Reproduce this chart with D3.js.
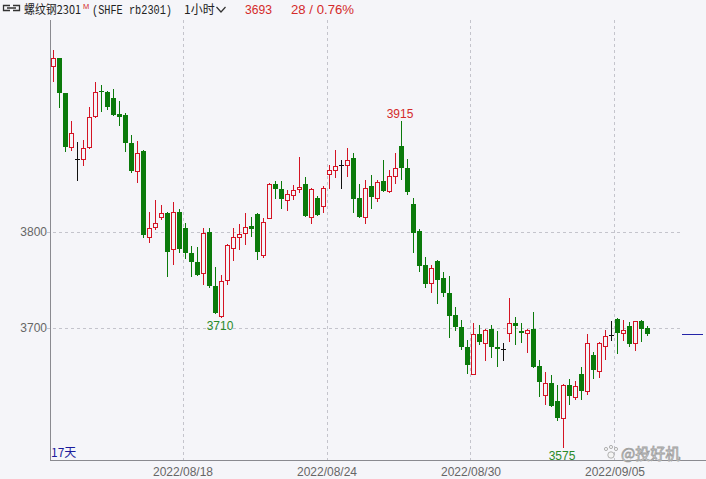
<!DOCTYPE html>
<html><head><meta charset="utf-8">
<script src="https://cdn.jsdelivr.net/npm/d3@7"></script>
<style>body{margin:0;background:#f5f5f9}svg{display:block}</style>
</head><body>
<svg id="c" width="706" height="479"></svg>
<script>
const open = [3973,3981,3944,3888,3876,3876,3888,3920,3947,3946, 3939,3923,3922,3892,3863,3884,3795,3805,3815,3820,
  3782,3821,3804,3778,3768,3757,3800,3743,3712,3750, 3783,3795,3799,3806,3818,3776,3814,3850,3845,3833,
  3838,3844,3850,3815,3835,3827,3860,3864,3869,3869, 3877,3835,3815,3848,3835,3853,3842,3858,3889,3866,
  3829,3801,3765,3747,3770,3752,3736,3713,3701,3680, 3652,3693,3684,3699,3680,3678,3695,3705,3697,3695,
  3699,3660,3630,3642,3624,3606,3640,3628,3652,3634, 3672,3655,3681,3692,3709,3694,3702,3684,3707,3700];
const high = [3989,3981,3944,3915,3893,3896,3930,3956,3953,3947, 3949,3936,3924,3901,3894,3885,3821,3833,3828,3821,
  3831,3824,3809,3785,3784,3804,3804,3763,3755,3787, 3804,3808,3819,3815,3819,3814,3851,3853,3853,3843,
  3849,3878,3857,3846,3837,3848,3870,3885,3875,3887, 3882,3850,3854,3859,3854,3875,3864,3882,3915,3876,
  3835,3803,3774,3765,3771,3758,3754,3722,3708,3687, 3705,3703,3699,3703,3697,3684,3731,3711,3705,3699,
  3716,3666,3654,3651,3640,3641,3647,3645,3659,3693, 3675,3685,3698,3707,3710,3708,3706,3707,3708,3702];
const low = [3956,3929,3883,3884,3853,3868,3886,3918,3925,3927, 3921,3910,3883,3861,3851,3793,3788,3802,3812,3753,
  3765,3778,3772,3753,3754,3744,3741,3714,3710,3744, 3770,3781,3786,3795,3771,3773,3813,3834,3824,3822,
  3833,3840,3815,3808,3816,3819,3845,3856,3844,3857, 3819,3814,3808,3824,3831,3841,3840,3850,3854,3838,
  3778,3758,3741,3736,3725,3732,3689,3697,3677,3652, 3651,3682,3665,3668,3659,3665,3685,3682,3684,3674,
  3658,3628,3620,3617,3603,3575,3620,3625,3625,3630, 3647,3648,3666,3686,3673,3686,3680,3676,3685,3691];
const close = [3981,3944,3888,3903,3876,3887,3919,3945,3945,3930, 3922,3919,3892,3863,3882,3797,3804,3809,3819,3779,
  3821,3782,3778,3768,3755,3799,3743,3715,3749,3786, 3795,3798,3805,3803,3779,3810,3850,3845,3834,3839,
  3843,3847,3816,3845,3817,3846,3864,3868,3869,3875, 3834,3815,3846,3836,3852,3842,3858,3866,3866,3841,
  3799,3764,3746,3762,3750,3736,3712,3701,3680,3661, 3693,3685,3698,3680,3678,3678,3705,3702,3694,3698,
  3659,3643,3642,3618,3606,3640,3629,3639,3634,3684, 3656,3684,3691,3692,3695,3698,3683,3707,3699,3693];
const yTicks = [3700, 3800];
const dayBoundaries = [21.5, 45.5, 69.5, 93.5];
const dateLabels = ["2022/08/18", "2022/08/24", "2022/08/30", "2022/09/05"];
const markIdx = [58, 28, 85];
const markType = ["high", "low", "low"];
const lastPrice = 3693;

const RED = "#d41424", GREEN = "#0b7a0b", DOJI = "#111";
const svg = d3.select("#c");
svg.append("rect").attr("width",706).attr("height",479).attr("fill","#f5f5f9");

const x = d3.scaleLinear().domain([0, 99]).range([53.5, 647.5]);
const y = d3.scaleLinear().domain([3700, 3800]).range([327.7, 231.7]);

// grid
const g = svg.append("g");
g.selectAll("line.hg").data(yTicks).join("line")
  .attr("x1", 47).attr("x2", 680).attr("y1", d => Math.round(y(d)) + 0.5).attr("y2", d => Math.round(y(d)) + 0.5)
  .attr("stroke", "#c4c4cc").attr("stroke-dasharray", "3,3");
g.selectAll("line.vg").data(dayBoundaries).join("line")
  .attr("x1", d => Math.round(x(d)) + 0.5).attr("x2", d => Math.round(x(d)) + 0.5).attr("y1", 20).attr("y2", 460)
  .attr("stroke", "#c4c4cc").attr("stroke-dasharray", "3,3");

// axes lines
svg.append("line").attr("x1",50.5).attr("x2",50.5).attr("y1",20).attr("y2",461).attr("stroke","#8a8a90");
svg.append("line").attr("x1",50).attr("x2",706).attr("y1",460.5).attr("y2",460.5).attr("stroke","#8a8a90");

const yAxis = svg.append("g").attr("transform","translate(50,0)")
  .call(d3.axisLeft(y).tickValues(yTicks).tickSize(0).tickPadding(3).tickFormat(d3.format("d")));
yAxis.select(".domain").remove();
yAxis.selectAll("text").attr("fill","#666").style("font-family","'Liberation Sans', Arial, sans-serif").style("font-size","12px");

const xAxis = svg.append("g").attr("transform","translate(0,460)")
  .call(d3.axisBottom(x).tickValues(dayBoundaries).tickSize(0).tickPadding(7).tickFormat((d,i) => dateLabels[i]));
xAxis.select(".domain").remove();
xAxis.selectAll("text").attr("fill","#666").style("font-family","'Liberation Sans', Arial, sans-serif").style("font-size","12px");

// candles
const idx = d3.range(open.length);
const cg = svg.append("g").attr("shape-rendering","crispEdges");
idx.forEach(i => {
  const cx = Math.round(x(i) - 0.5) + 0.5;
  const o = open[i], c = close[i];
  const col = c > o ? RED : (c < o ? GREEN : DOJI);
  cg.append("line").attr("x1",cx).attr("x2",cx).attr("y1",y(high[i])).attr("y2",y(low[i])).attr("stroke",col);
  if (c === o) {
    cg.append("line").attr("x1",cx-2.5).attr("x2",cx+2.5).attr("y1",Math.round(y(o))+0.5).attr("y2",Math.round(y(o))+0.5).attr("stroke",col);
  } else if (c > o) {
    const t = Math.round(y(c)) + 0.5, b = Math.round(y(o)) + 0.5;
    cg.append("rect").attr("x",cx-2).attr("width",4).attr("y",t).attr("height",Math.max(1,b-t))
      .attr("fill","#f5f5f9").attr("stroke",col);
  } else {
    const t = Math.round(y(o)), b = Math.round(y(c));
    cg.append("rect").attr("x",cx-2.5).attr("width",5).attr("y",t).attr("height",Math.max(1,b-t)).attr("fill",col);
  }
});

// high/low marks
markIdx.forEach((i, k) => {
  const isHigh = markType[k] === "high";
  const v = isHigh ? high[i] : low[i];
  svg.append("text").attr("x", x(i) - 1.5).attr("y", isHigh ? y(v) - 3 : y(v) + 12)
    .attr("text-anchor","middle").attr("fill", isHigh ? "#d42a2a" : "#2a8a2a")
    .style("font-family","'Liberation Sans', Arial, sans-serif").style("font-size","12px").text(v);
});

// last price marker
svg.append("line").attr("x1",682).attr("x2",703).attr("y1",Math.round(y(lastPrice))+0.5).attr("y2",Math.round(y(lastPrice))+0.5)
  .attr("stroke","#2424a8").attr("stroke-width",1);

// "17天"
svg.append("text").attr("x",51).attr("y",457).attr("fill","#1c1c9c")
  .style("font-family","'Noto Sans CJK SC', sans-serif").style("font-size","12px").text("17天");

// watermark
const wm = svg.append("g").attr("fill","#f4f4f4").attr("stroke","#a0a0a0").attr("stroke-width",0.8);
[[606,449,1.6],[611,447,1.6],[616,449,1.6],[611,455,3.2]].forEach(p =>
  wm.append("circle").attr("cx",p[0]).attr("cy",p[1]).attr("r",p[2]));
wm.append("text").attr("x",621).attr("y",459)
  .style("font-family","'Noto Sans CJK SC', sans-serif").style("font-size","15px").text("@投好机");

// header
const hf = "'Noto Sans CJK SC', sans-serif";
svg.append("path").attr("d","M10,5.5 H3.5 V10.5 H10 M13,5.5 H19.5 V10.5 H13 M7,8 H16").attr("fill","none").attr("stroke","#333").attr("stroke-width",1.3);
const t1 = svg.append("text").attr("x",24).attr("y",14).attr("fill","#222").style("font-family",hf).style("font-size","12px");
t1.append("tspan").attr("textLength",57).attr("lengthAdjust","spacingAndGlyphs").text("螺纹钢2301");
t1.append("tspan").attr("dx",2).attr("dy",-5).attr("fill","#d42a2a").style("font-family","'Liberation Sans', sans-serif").style("font-size","7.5px").text("M");
svg.append("text").attr("x",92).attr("y",14).attr("fill","#222").attr("textLength",80).attr("lengthAdjust","spacingAndGlyphs")
  .style("font-family","'Liberation Mono', monospace").style("font-size","12px").text("(SHFE rb2301)");
svg.append("text").attr("x",184).attr("y",14).attr("fill","#222").style("font-family",hf).style("font-size","12px").text("1小时");
svg.append("path").attr("d","M216.5,7 L221,12 L225.5,7").attr("fill","none").attr("stroke","#333").attr("stroke-width",1.2);
svg.append("text").attr("x",245).attr("y",14).attr("fill","#d42a2a").attr("textLength",27).attr("lengthAdjust","spacingAndGlyphs")
  .style("font-family","'Liberation Sans', sans-serif").style("font-size","12.5px").text(lastPrice);
svg.append("text").attr("x",291).attr("y",14).attr("fill","#d42a2a").attr("textLength",63).attr("lengthAdjust","spacingAndGlyphs")
  .style("font-family","'Liberation Sans', sans-serif").style("font-size","12.5px").text("28 / 0.76%");
</script></body></html>
